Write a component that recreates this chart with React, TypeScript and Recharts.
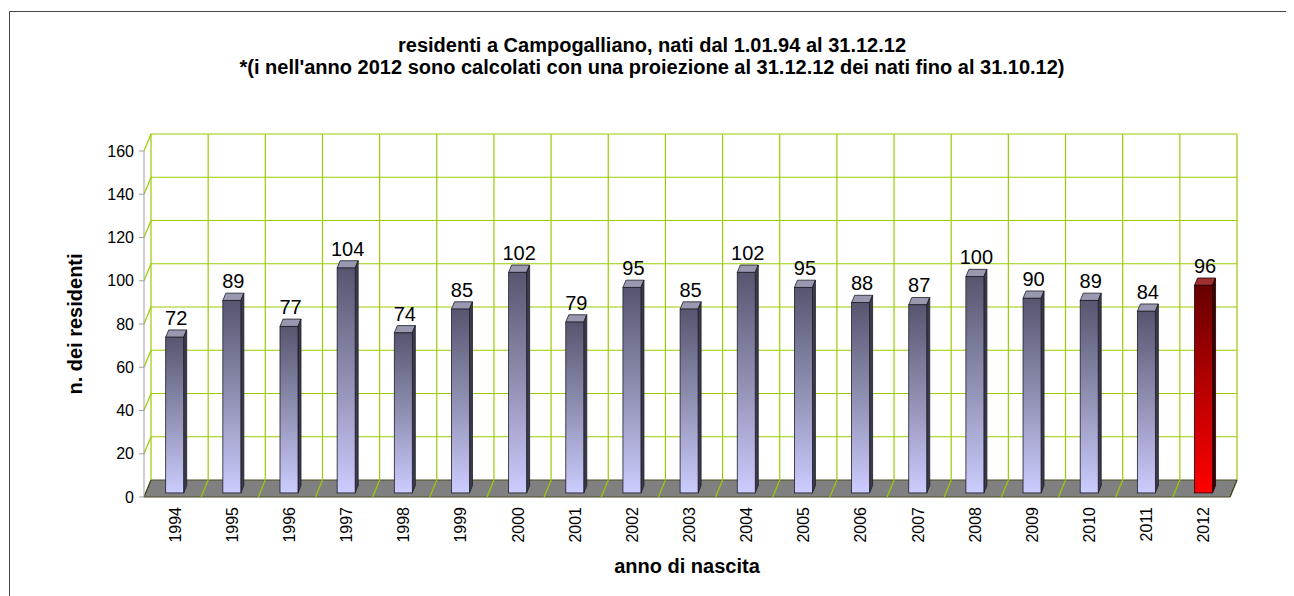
import { BarChart, Bar, XAxis, YAxis, CartesianGrid, LabelList } from 'recharts';

const years = ['1994', '1995', '1996', '1997', '1998', '1999', '2000', '2001', '2002', '2003',
  '2004', '2005', '2006', '2007', '2008', '2009', '2010', '2011', '2012'];
const residents = [72, 89, 77, 104, 74, 85, 102, 79, 95, 85, 102, 95, 88, 87, 100, 90, 89, 84, 96];
// 2012 is a projection, drawn in red
const projectedYears = ['2012'];
const yTicks = [0, 20, 40, 60, 80, 100, 120, 140, 160];
const gridTicks = years.map((_, i) => i).concat(years.length);

const titleLines = [
  'residenti a Campogalliano, nati dal 1.01.94 al 31.12.12',
  "*(i nell'anno 2012 sono calcolati con una proiezione al 31.12.12 dei nati fino al 31.10.12)",
];

const data = years.map((year, i) => ({
  year,
  idx: i,
  value: residents[i],
  projected: projectedYears.includes(year),
}));

// fake 3D depth of the plot box
const DX = 7;
const DY = 17;
// bars sit between these fractions of the depth
const BAR_FRONT = 0.24;
const BAR_BACK = 0.67;

const FONT = '"Liberation Sans", Arial, Helvetica, sans-serif';
const GRID = '#99CC00';

const HLine = (props: any) => {
  const { x1, y1, x2, y, height } = props;
  const isFloor = Math.abs(y1 - (y + height)) < 0.5;
  return (
    <g>
      {isFloor && (
        <polygon
          points={`${x1},${y1} ${x2},${y1} ${x2 + DX},${y1 - DY} ${x1 + DX},${y1 - DY}`}
          fill="#808080"
          stroke="#4a4a20"
          strokeWidth={1}
        />
      )}
      {!isFloor && (
        <>
          <line x1={x1 + DX} y1={y1 - DY} x2={x2 + DX} y2={y1 - DY} stroke={GRID} strokeWidth={1.2} />
          <line x1={x1} y1={y1} x2={x1 + DX} y2={y1 - DY} stroke={GRID} strokeWidth={1.2} />
        </>
      )}
    </g>
  );
};

const VLine = (props: any) => {
  const { x1, y1, y2, index } = props;
  const edge = index === 0 || index === gridTicks.length - 1;
  return (
    <g>
      <line x1={x1 + DX} y1={y1 - DY} x2={x1 + DX} y2={y2 - DY} stroke={GRID} strokeWidth={1.2} />
      <line x1={x1} y1={y2} x2={x1 + DX} y2={y2 - DY} stroke={edge ? '#4a4a20' : GRID} strokeWidth={1.2} />
    </g>
  );
};

const Bar3D = (props: any) => {
  const { x, y, width, height, payload } = props;
  const red = payload && payload.projected;
  const fx = x + BAR_FRONT * DX;
  const fy = y - BAR_FRONT * DY;
  const dx = (BAR_BACK - BAR_FRONT) * DX;
  const dy = (BAR_BACK - BAR_FRONT) * DY;
  const stroke = red ? '#220000' : '#1e1e28';
  return (
    <g>
      <polygon
        points={`${fx},${fy} ${fx + width},${fy} ${fx + width + dx},${fy - dy} ${fx + dx},${fy - dy}`}
        fill={red ? '#a03030' : '#9898b0'}
        stroke={stroke}
        strokeWidth={0.8}
      />
      <polygon
        points={`${fx + width},${fy} ${fx + width + dx},${fy - dy} ${fx + width + dx},${fy + height - dy} ${fx + width},${fy + height}`}
        fill={red ? '#3c0000' : '#3a3a4c'}
        stroke={stroke}
        strokeWidth={0.8}
      />
      <rect
        x={fx}
        y={fy}
        width={width}
        height={height}
        fill={red ? 'url(#gradRed)' : 'url(#gradBlue)'}
        stroke={stroke}
        strokeWidth={0.8}
      />
    </g>
  );
};

const ValueLabel = (props: any) => {
  const { x, y, width, value } = props;
  const tx = x + BAR_FRONT * DX + width / 2 + ((BAR_BACK - BAR_FRONT) * DX) / 2;
  const ty = y - BAR_BACK * DY - 5;
  return (
    <text x={tx} y={ty} textAnchor="middle" fontSize={20} fontFamily={FONT} fill="#000">
      {value}
    </text>
  );
};

const YearTick = (props: any) => {
  const { x, y, payload } = props;
  const tx = x + 2.4;
  return (
    <text
      x={tx}
      y={y}
      dy="0.35em"
      transform={`rotate(-90, ${tx}, ${y})`}
      textAnchor="end"
      fontSize={16}
      fontFamily={FONT}
      fill="#000"
    >
      {payload.value}
    </text>
  );
};

export default function App() {
  const W = 1286;
  const H = 588;
  return (
    <div style={{ position: 'relative', width: W, height: H, background: '#fff' }}>
      <svg width={0} height={0} style={{ position: 'absolute' }}>
        <defs>
          <linearGradient id="gradBlue" x1="0" y1="0" x2="0" y2="1">
            <stop offset="0%" stopColor="#565670" />
            <stop offset="45%" stopColor="#8a8aac" />
            <stop offset="100%" stopColor="#ccccff" />
          </linearGradient>
          <linearGradient id="gradRed" x1="0" y1="0" x2="0" y2="1">
            <stop offset="0%" stopColor="#660000" />
            <stop offset="55%" stopColor="#c00000" />
            <stop offset="100%" stopColor="#ff0000" />
          </linearGradient>
        </defs>
      </svg>
      <BarChart
        width={W}
        height={H}
        data={data}
        margin={{ top: 143, right: 64, bottom: 59, left: 76 }}
      >
        <CartesianGrid
          xAxisId="grid"
          horizontal={HLine}
          vertical={VLine}
        />
        <XAxis
          dataKey="year"
          type="category"
          axisLine={false}
          tickLine={false}
          tickSize={0}
          tickMargin={10}
          interval={0}
          height={40}
          tick={YearTick}
        />
        <XAxis
          xAxisId="grid"
          dataKey="idx"
          type="number"
          domain={[0, years.length]}
          ticks={gridTicks}
          allowDataOverflow
          hide
        />
        <YAxis
          domain={[0, 160]}
          ticks={yTicks}
          width={60}
          axisLine={{ stroke: '#a0a0a0', strokeWidth: 1 }}
          tickLine={{ stroke: '#a0a0a0' }}
          tickSize={5}
          tickMargin={5}
          tick={{ fontSize: 16, fontFamily: FONT, fill: '#000' }}
        />
        <Bar dataKey="value" barSize={18} shape={Bar3D} isAnimationActive={false}>
          <LabelList dataKey="value" content={ValueLabel} />
        </Bar>
      </BarChart>
      <svg
        width={W}
        height={H}
        style={{ position: 'absolute', left: 0, top: 0, pointerEvents: 'none' }}
      >
        <line x1={1.5} y1={3.5} x2={1.5} y2={H} stroke="#444" strokeWidth={1} />
        <line x1={1.5} y1={3.5} x2={W} y2={3.5} stroke="#444" strokeWidth={1} />
        {titleLines.map((t, i) => (
          <text
            key={i}
            x={644}
            y={44 + i * 22}
            textAnchor="middle"
            fontSize={20}
            fontWeight="bold"
            fontFamily={FONT}
            fill="#000"
          >
            {t}
          </text>
        ))}
        <text x={679} y={565} textAnchor="middle" fontSize={20} fontWeight="bold" fontFamily={FONT} fill="#000">
          anno di nascita
        </text>
        <text
          x={67}
          y={316}
          dy="0.35em"
          transform="rotate(-90, 67, 316)"
          textAnchor="middle"
          fontSize={20}
          fontWeight="bold"
          fontFamily={FONT}
          fill="#000"
        >
          n. dei residenti
        </text>
      </svg>
    </div>
  );
}
